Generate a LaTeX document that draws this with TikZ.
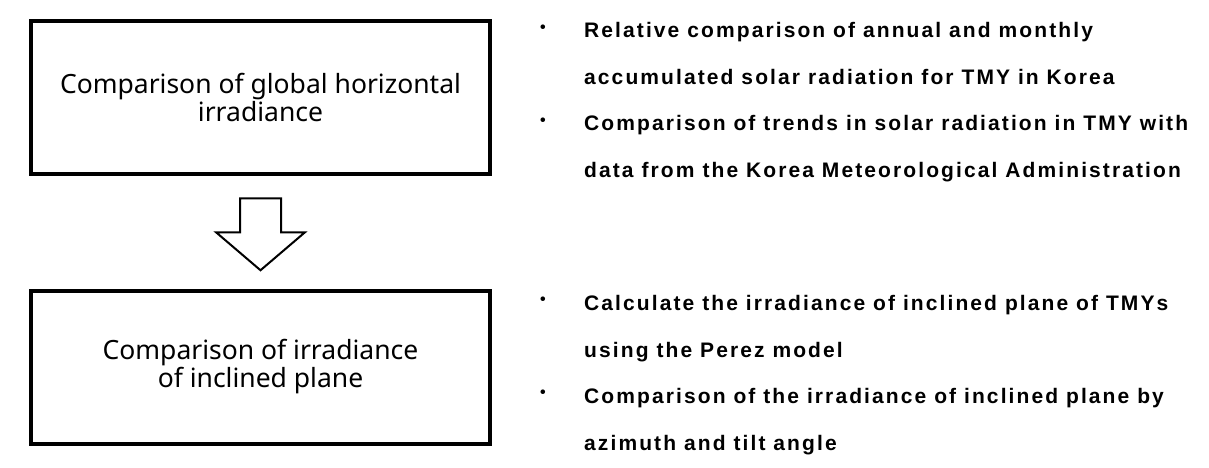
\documentclass[tikz,border=0pt]{standalone}
\usepackage{fontspec}
\newfontfamily\boxfont{Noto Sans}
\newfontfamily\listfont[LetterSpace=10]{Liberation Sans}
\usetikzlibrary{calc}
\tikzset{
  stagebox/.style={draw=black, line width=4pt, minimum width=459pt, minimum height=153pt,
    inner sep=0pt, align=center, font=\boxfont\fontsize{26.5}{28}\selectfont},
  flowarrow/.style={draw=black, line width=2pt, fill=white, line join=miter},
  itemtext/.style={anchor=base west, inner sep=0pt, align=left,
    font=\listfont\bfseries\fontsize{21}{46.7}\selectfont},
  bulletmark/.style={anchor=center, inner sep=0pt, font=\listfont\bfseries\fontsize{16}{16}\selectfont}
}
\begin{document}
\begin{tikzpicture}[x=1pt,y=-1pt]
\useasboundingbox (0,0) rectangle (1209,468);
\node[stagebox] (top) at (260.5,97.5) {Comparison of global horizontal\\irradiance};
\node[stagebox] (bot) at (260.5,367) {Comparison of irradiance\\of inclined plane};
\coordinate (mid) at ($(top.south)!0.5!(bot.north)$);
\draw[flowarrow] ($(mid)+(-20.5,-34)$) -- ($(mid)+(20.5,-34)$) -- ($(mid)+(20.5,0)$)
  -- ($(mid)+(44.5,0)$) -- ($(mid)+(0,38)$) -- ($(mid)+(-44.5,0)$) -- ($(mid)+(-20.5,0)$) -- cycle;
\node[bulletmark] (b1) at (543,29) {•};
\node[itemtext] (t1) at (584,84.5) {Relative comparison of annual and monthly\\accumulated solar radiation for TMY in Korea};
\node[bulletmark] (b2) at (543,122) {•};
\node[itemtext] (t2) at (584,177) {Comparison of trends in solar radiation in TMY with\\data from the Korea Meteorological Administration};
\node[bulletmark] (b3) at (543,301) {•};
\node[itemtext] (t3) at (584,357) {Calculate the irradiance of inclined plane of TMYs\\using the Perez model};
\node[bulletmark] (b4) at (543,394) {•};
\node[itemtext] (t4) at (584,450) {Comparison of the irradiance of inclined plane by\\azimuth and tilt angle};
\end{tikzpicture}
\end{document}
